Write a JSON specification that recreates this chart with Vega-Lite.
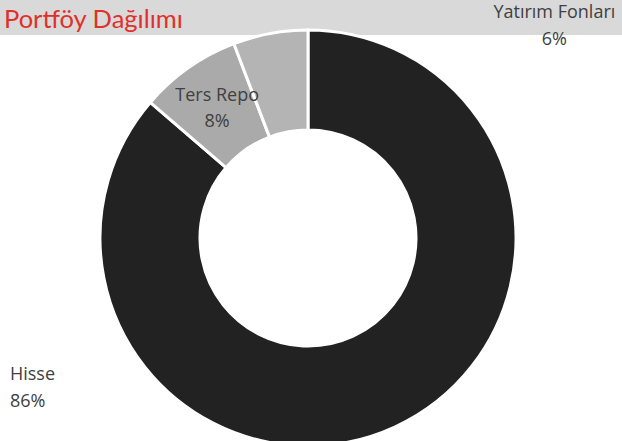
{
  "$schema": "https://vega.github.io/schema/vega-lite/v6.json",
  "width": 628,
  "height": 406,
  "autosize": {"type": "none"},
  "padding": {"left": -6, "top": 35, "right": 0, "bottom": 0},
  "background": "#d9d9d9",
  "view": {"fill": "white", "stroke": null},
  "data": {
    "values": [
      {"category": "Hisse", "value": 0.863},
      {"category": "Ters Repo", "value": 0.079},
      {"category": "Yatırım Fonları", "value": 0.058}
    ]
  },
  "transform": [
    {"stack": "value", "groupby": [], "as": ["v0", "v1"], "sort": [{"field": "category", "order": "ascending"}]},
    {"calculate": "(datum.v0 + datum.v1) / 2", "as": "mid"},
    {"calculate": "datum.category + '\\n' + format(datum.value, '.0%')", "as": "label"}
  ],
  "layer": [
    {
      "mark": {"type": "arc", "outerRadius": 208, "innerRadius": 108, "stroke": "white", "strokeWidth": 3},
      "encoding": {
        "theta": {"field": "v0", "type": "quantitative", "scale": {"domain": [0, 1]}},
        "theta2": {"field": "v1"},
        "color": {
          "field": "category",
          "type": "nominal",
          "scale": {"domain": ["Hisse", "Ters Repo", "Yatırım Fonları"], "range": ["#222222", "#aaaaaa", "#b4b4b4"]},
          "legend": null
        }
      }
    },
    {
      "transform": [{"filter": "datum.category === 'Ters Repo'"}],
      "mark": {"type": "text", "radius": 158, "align": "center", "baseline": "middle", "lineBreak": "\n", "lineHeight": 26, "dy": -13, "font": "Open Sans", "fontSize": 18, "fill": "#404040"},
      "encoding": {
        "theta": {"field": "mid", "type": "quantitative", "scale": {"domain": [0, 1]}},
        "text": {"field": "label"}
      }
    },
    {
      "transform": [{"filter": "datum.category === 'Hisse'"}],
      "mark": {"type": "text", "radius": 158, "align": "left", "baseline": "middle", "lineBreak": "\n", "lineHeight": 27, "dx": -364, "dy": -7, "font": "Open Sans", "fontSize": 18, "fill": "#404040"},
      "encoding": {
        "theta": {"field": "mid", "type": "quantitative", "scale": {"domain": [0, 1]}},
        "text": {"field": "label"}
      }
    },
    {
      "transform": [{"filter": "datum.category === 'Yatırım Fonları'"}],
      "mark": {"type": "text", "radius": 158, "align": "center", "baseline": "middle", "lineBreak": "\n", "lineHeight": 27, "dx": 275, "dy": -70, "font": "Open Sans", "fontSize": 18, "fill": "#404040"},
      "encoding": {
        "theta": {"field": "mid", "type": "quantitative", "scale": {"domain": [0, 1]}},
        "text": {"field": "label"}
      }
    },
    {
      "transform": [{"filter": "datum.category === 'Hisse'"}],
      "mark": {"type": "text", "align": "left", "baseline": "alphabetic", "dx": -304, "dy": -210, "font": "Lato", "fontSize": 25.5, "fill": "#e0302a"},
      "encoding": {
        "text": {"value": "Portföy Dağılımı"}
      }
    }
  ]
}
